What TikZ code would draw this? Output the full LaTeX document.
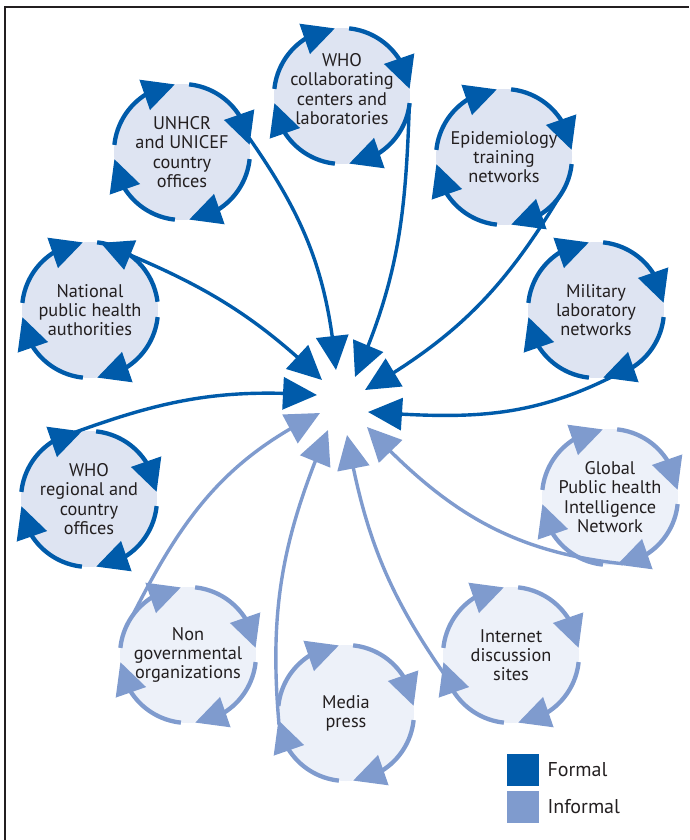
\documentclass[tikz,border=0pt]{standalone}
\usepackage{fontspec}
\setmainfont{PT Sans}
\usetikzlibrary{arrows.meta,bending}
\definecolor{formal}{HTML}{005BAA}
\definecolor{informal}{HTML}{7F9BCE}
\definecolor{ffill}{HTML}{DEE4F2}
\definecolor{ifill}{HTML}{EDF1F9}
\definecolor{txt}{HTML}{231F20}
\newcommand\ringof[2]{\foreach \a in {174,84,-6,-96}{\draw[#2] (#1.center) ++(\a:68pt) arc[start angle=\a, end angle={\a-78}, radius=68pt];}}
\begin{document}
\begin{tikzpicture}[x=1pt,y=1pt,
  fnode/.style={circle, fill=ffill, minimum size=136pt, inner sep=0pt, outer sep=0pt, align=center, text=txt, font=\fontsize{18.3}{19.2}\selectfont},
  inode/.style={fnode, fill=ifill},
  ctext/.style={align=center, text=txt, inner sep=0pt, font=\fontsize{18.3}{19.2}\selectfont},
  fring/.style={line width=4.3pt, draw=formal, -{Triangle[length=32pt,width=31pt,flex]}},
  iring/.style={line width=4.3pt, draw=informal, -{Triangle[length=32pt,width=31pt,flex]}},
  fconn/.style={line width=3.4pt, draw=formal, -{Triangle[length=34pt,width=32pt,flex]}},
  iconn/.style={line width=3.4pt, draw=informal, -{Triangle[length=34pt,width=32pt,flex]}},
  legtext/.style={anchor=west, text=txt, font=\fontsize{20}{24}\selectfont}]
\useasboundingbox (0,0) rectangle (689,-840);
\draw[line width=2.5pt, draw=txt] (5,-840) -- (5,-7) -- (689,-7);

% circles
\node[fnode] (whocc) at (342,-96) {};
\node[ctext] (whocct) at (342,-89) {WHO\\collaborating\\centers and\\laboratories};
\node[fnode] (unhcr) at (182,-152) {UNHCR\\and UNICEF\\country\\offices};
\node[fnode] (epi) at (504,-157) {Epidemiology\\training\\networks};
\node[fnode] (natl) at (90,-310) {National\\public health\\authorities};
\node[fnode] (mil) at (596,-310) {Military\\laboratory\\networks};
\node[fnode] (whoreg) at (89,-499) {WHO\\regional and\\country\\offices};
\node[inode] (gphin) at (610,-497) {Global\\Public health\\Intelligence\\Network};
\node[inode] (ngo) at (188,-655) {Non\\governmental\\organizations};
\node[inode] (inet) at (511,-655) {Internet\\discussion\\sites};
\node[inode] (media) at (346,-713) {Media\\press};

% hub tips
\coordinate (h1) at (336,-370);
\coordinate (h2) at (322,-380);
\coordinate (h3) at (317,-395);
\coordinate (h4) at (355,-377);
\coordinate (h5) at (365,-390);
\coordinate (h6) at (368,-412);
\coordinate (h7) at (320,-413);
\coordinate (h8) at (328,-430);
\coordinate (h9) at (347,-435);
\coordinate (h10) at (367,-427);

% connectors
\draw[fconn] (unhcr.13) to[out=-55,in=95] (h1);
\draw[fconn, {Triangle[length=32pt,width=31pt,flex]}-{Triangle[length=34pt,width=32pt,flex]}] (natl.81) to[out=-22,in=136] (h2);
\draw[fconn] (whoreg.103) to[out=20,in=176] (h3);
\draw[fconn] (whocc.-8) to[out=-92,in=66] (h4);
\draw[fconn] (epi.-33) to[out=-121,in=30] (h5);
\draw[fconn] (mil.-74) to[out=207,in=-4] (h6);
\draw[iconn] (ngo.145) to[out=63,in=206] (h7);
\draw[iconn] (media.190) to[out=95,in=247] (h8);
\draw[iconn] (inet.-160) to[out=125,in=-80] (h9);
\draw[iconn] (gphin.-79) to[out=174,in=-47] (h10);

% rings
\ringof{whocc}{fring}
\ringof{unhcr}{fring}
\ringof{epi}{fring}
\ringof{mil}{fring}
\ringof{whoreg}{fring}
\foreach \a in {174,-6,-96}{\draw[fring] (natl.center) ++(\a:68pt) arc[start angle=\a, end angle={\a-78}, radius=68pt];}
\draw[line width=4.3pt, draw=formal] (natl.center) ++(84:68pt) arc[start angle=84, end angle=7, radius=68pt];
\ringof{gphin}{iring}
\ringof{ngo}{iring}
\ringof{inet}{iring}
\ringof{media}{iring}

% legend
\node[fill=formal, minimum size=32pt, inner sep=0pt] (lformal) at (522.5,-770) {};
\node[fill=informal, minimum size=32pt, inner sep=0pt] (linformal) at (522.5,-807) {};
\node[legtext] (tformal) at (544,-770) {Formal};
\node[legtext] (tinformal) at (544,-807) {Informal};
\end{tikzpicture}
\end{document}
